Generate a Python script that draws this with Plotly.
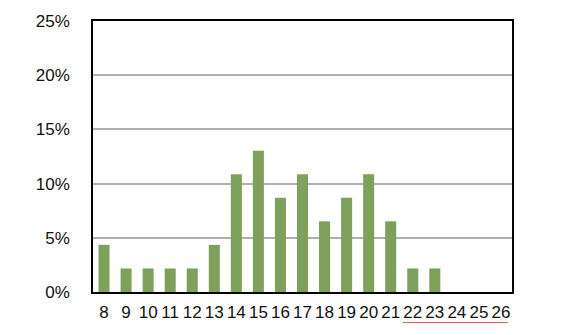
import plotly.graph_objects as go

categories = [str(c) for c in range(8, 27)]
values = [4.35, 2.17, 2.17, 2.17, 2.17, 4.35, 10.87, 13.04, 8.70, 10.87,
          6.52, 8.70, 10.87, 6.52, 2.17, 2.17, 0, 0, 0]
y_ticks = [0, 5, 10, 15, 20, 25]
y_tick_labels = [f"{t}%" for t in y_ticks]

fig = go.Figure(go.Bar(x=categories, y=values, marker_color="#7fa05a",
                       marker_line_width=0))

fig.update_layout(
    width=562, height=335,
    margin=dict(l=93, r=50, t=21, b=43),
    paper_bgcolor="white", plot_bgcolor="white",
    bargap=0.5,
    showlegend=False,
    font=dict(family="Liberation Sans, Arial, sans-serif", size=17, color="#111111"),
    xaxis=dict(type="category", showline=True, linecolor="black", linewidth=1.5,
               mirror=True, ticks="", showgrid=False, ticklabelstandoff=4,
               tickfont=dict(size=17)),
    yaxis=dict(range=[0, 25], tickvals=y_ticks, ticktext=y_tick_labels,
               showline=True, linecolor="black", linewidth=1.5, mirror=True,
               showgrid=True, gridcolor="#b0b0b0", gridwidth=1.5, ticks="",
               zeroline=False, ticklabelstandoff=18, tickfont=dict(size=17)),
    shapes=[dict(type="line", xref="paper", yref="paper",
                 x0=0.739, x1=0.990, y0=-0.113, y1=-0.113,
                 line=dict(color="#d9534f", width=1))],
)

fig.write_html("out.html")
